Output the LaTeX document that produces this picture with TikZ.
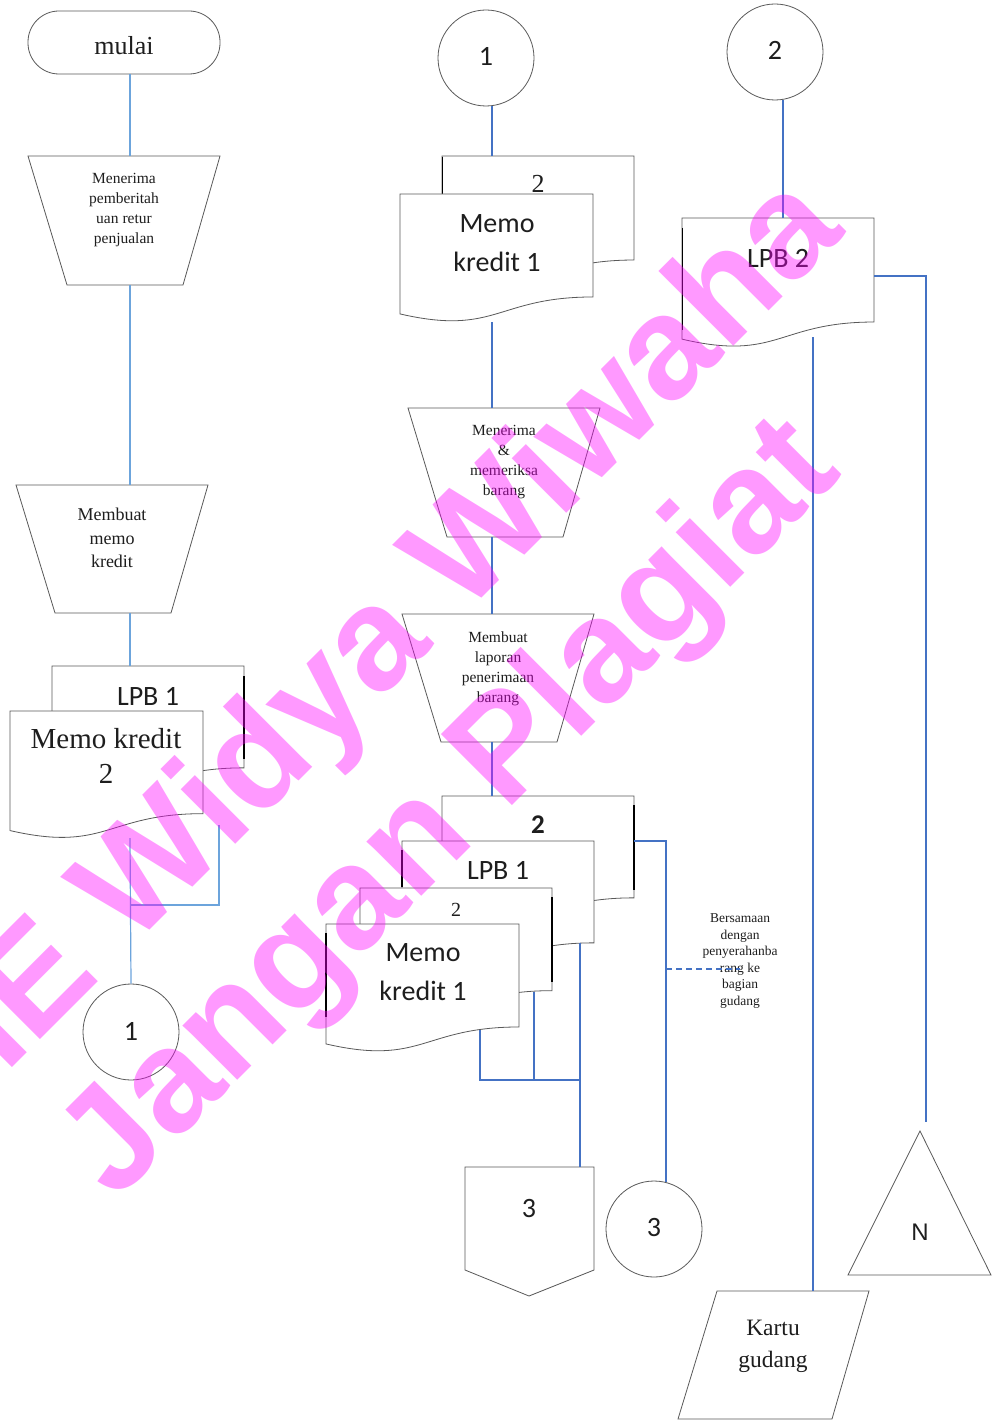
\documentclass[tikz,border=0pt]{standalone}
\usepackage{fontspec}
\setmainfont{Liberation Serif}
\newfontfamily\calib{Carlito}
\newfontfamily\arl{Liberation Sans}
\newfontfamily\wmfamily{Liberation Sans}
\definecolor{shpgray}{RGB}{89,89,89}
\definecolor{linkblue}{RGB}{68,114,196}
\definecolor{lightlink}{RGB}{108,164,220}
\definecolor{txt}{RGB}{30,30,30}
\definecolor{wmpink}{RGB}{255,0,255}
\newcommand\fdoc[4]{%
  \path[shp] (#1,#2) -- ({#1+#3},#2) -- ({#1+#3},{#2+0.802*#4})
    .. controls ({#1+0.5*#3},{#2+0.802*#4}) and ({#1+0.5*#3},{#2+1.1075*#4}) .. (#1,{#2+0.934*#4}) -- cycle;}
\newcommand\upnum[1]{\raisebox{4pt}{#1}}
\begin{document}
\begin{tikzpicture}[x=1pt,y=-1pt,
  shp/.style={draw=shpgray, line width=0.8pt, fill=white},
  conn/.style={draw=linkblue, line width=1.6pt},
  lconn/.style={draw=lightlink, line width=1.2pt},
  edgemark/.style={draw=black, line width=1.6pt},
  lbl/.style={inner sep=0pt, align=center, text=txt},
  circ/.style={shp, circle, minimum size=96pt, inner sep=0pt, text=txt, font=\calib\fontsize{28}{32}\selectfont},
  wm/.style={text=wmpink, text opacity=0.4, font=\wmfamily\bfseries\fontsize{146}{146}\selectfont, inner sep=0pt, rotate=45, anchor=base}
]
\useasboundingbox (0,0) rectangle (992,1420);
\clip (0,0) rectangle (992,1420);
\fill[white] (0,0) rectangle (992,1420);

% ---------------- left column ----------------
\draw[shp, rounded corners=31pt] (28,11) rectangle (220,74);
\node[lbl, font=\fontsize{26}{30}\selectfont] (mulai) at (124,46) {mulai};
\coordinate (mulaiS) at (130,74);

\path[shp] (28,156) -- (220,156) -- (183,285) -- (67,285) -- cycle;
\node[lbl, font=\fontsize{15.5}{19.7}\selectfont] (terima) at (124,210) {Menerima\\pemberitah\\uan retur\\penjualan};
\coordinate (t1N) at (130,156);
\coordinate (t1S) at (130,285);

\path[shp] (16,485) -- (208,485) -- (171,613) -- (55,613) -- cycle;
\node[lbl, font=\fontsize{18}{23.5}\selectfont] (buatmemo) at (112,538) {Membuat\\memo\\kredit};
\coordinate (t2N) at (130,485);
\coordinate (t2S) at (130,613);

\fdoc{52}{666}{192}{127}
\draw[edgemark] (244,676) -- (244,759);
\fdoc{10}{711}{193}{128}
\node[lbl, font=\calib\fontsize{28}{32}\selectfont] (lpbL) at (148,696) {LPB 1};
\node[lbl, font=\fontsize{29}{35}\selectfont] (mk2) at (106,756) {Memo kredit\\2};
\coordinate (docTopL) at (130,666);
\coordinate (docBotL) at (130,838);
\coordinate (docBotR) at (219,825);
\coordinate (jL) at (130,905);

\node[circ] (c1L) at (131,1032) {\raisebox{2pt}{1}};

\draw[lconn] (mulaiS) -- (t1N);
\draw[lconn] (t1S) -- (t2N);
\draw[lconn] (t2S) -- (docTopL);
\draw[lconn] (docBotL) -- (c1L.north);
\draw[lconn] (docBotR) |- (jL);

% ---------------- middle column ----------------
\node[circ] (c1M) at (486,58) {\upnum{1}};
\coordinate (c1MS) at (492,106);

\fdoc{442}{156}{192}{129.7}
\draw[black, line width=1pt] (442,157) -- (442,194);
\fdoc{400}{194}{193}{128.4}
\node[lbl, font=\fontsize{26}{30}\selectfont] (two1) at (538,184) {2};
\node[lbl, font=\calib\fontsize{28}{39}\selectfont] (mk1a) at (497,243) {Memo\\kredit 1};
\coordinate (d1N) at (492,156);
\coordinate (d1S) at (492,322);

\path[shp] (408,408) -- (600,408) -- (563,537) -- (447,537) -- cycle;
\node[lbl, font=\fontsize{15.5}{20}\selectfont] (periksa) at (504,462) {Menerima\\\&\\memeriksa\\barang};
\coordinate (t3N) at (492,408);
\coordinate (t3S) at (492,537);

\path[shp] (402,614) -- (594,614) -- (557,742) -- (441,742) -- cycle;
\node[lbl, font=\fontsize{15.5}{20}\selectfont] (laporan) at (498,669) {Membuat\\laporan\\penerimaan\\barang};
\coordinate (t4N) at (492,614);
\coordinate (t4S) at (492,742);

\fdoc{442}{796}{192}{127}
\draw[edgemark] (634,805) -- (634,890);
\fdoc{402}{841}{192}{127}
\draw[edgemark] (402,850) -- (402,887);
\fdoc{360}{888}{192}{128}
\draw[edgemark] (552,897) -- (552,982);
\fdoc{326}{924}{193}{128.4}
\draw[edgemark] (326,933) -- (326,1017);
\node[lbl, font=\calib\bfseries\fontsize{27}{32}\selectfont] (docA) at (538,825) {2};
\node[lbl, font=\calib\fontsize{28}{32}\selectfont] (docB) at (498,870) {LPB 1};
\node[lbl, font=\fontsize{20}{24}\selectfont] (docC) at (456,910) {2};
\node[lbl, font=\calib\fontsize{28}{39}\selectfont] (docD) at (423,972) {Memo\\kredit 1};
\coordinate (sN) at (492,796);
\coordinate (aR) at (634,841);
\coordinate (aJ) at (666,969);
\coordinate (dS) at (480,1030);
\coordinate (cS) at (534,992);
\coordinate (bS) at (580,943);
\coordinate (jD) at (480,1080);
\coordinate (jB) at (580,1080);
\coordinate (jC) at (534,1080);

\node[lbl, font=\fontsize{13.5}{16.6}\selectfont] (note) at (740,961) {Bersamaan\\dengan\\penyerahanba\\rang ke\\bagian\\gudang};
\coordinate (noteW) at (740,969);

\path[shp] (465,1167) -- (594,1167) -- (594,1270) -- (529,1296) -- (465,1270) -- cycle;
\node[lbl, font=\calib\fontsize{28}{32}\selectfont] (off3) at (529,1208) {3};
\coordinate (off3N) at (580,1167);

\node[circ] (c3) at (654,1229) {\upnum{3}};
\coordinate (c3N) at (666,1182);

\draw[conn] (c1MS) -- (d1N);
\draw[conn] (d1S) -- (t3N);
\draw[conn] (t3S) -- (t4N);
\draw[conn] (t4S) -- (sN);
\draw[conn] (aR) -| (c3N);
\draw[conn, dashed, dash pattern=on 6pt off 4pt] (aJ) -- (noteW);
\draw[conn] (dS) -- (jD) -- (jB);
\draw[conn] (cS) -- (jC);
\draw[conn] (bS) -- (off3N);

% ---------------- right column ----------------
\node[circ] (c2) at (775,52) {\upnum{2}};
\coordinate (c2S) at (783,100);

\fdoc{682}{218}{192}{129.7}
\draw[black, line width=1pt] (682,228) -- (682,330);
\node[lbl, font=\calib\fontsize{28}{32}\selectfont] (lpb2) at (778,258) {LPB 2};
\coordinate (lpb2N) at (783,218);
\coordinate (lpb2R) at (874,276);
\coordinate (lpb2S) at (813,337);

\path[shp] (920,1131) -- (991,1275) -- (848,1275) -- cycle;
\node[lbl, font=\arl\fontsize{24}{28}\selectfont] (arsipN) at (920,1232) {N};
\coordinate (triN) at (926,1122);

\path[shp] (717,1291) -- (869,1291) -- (832,1419) -- (678,1419) -- cycle;
\node[lbl, font=\fontsize{23.5}{32}\selectfont] (kartu) at (773,1346) {Kartu\\gudang};
\coordinate (kartuN) at (813,1291);

\draw[conn] (c2S) -- (lpb2N);
\draw[conn] (lpb2R) -| (triN);
\draw[conn] (lpb2S) -- (kartuN);

% ---------------- watermark ----------------
\node[wm] (wm1) at (360,720) {STIE Widya Wiwaha};
\node[wm] (wm2) at (480,838) {Jangan Plagiat};
\end{tikzpicture}
\end{document}
